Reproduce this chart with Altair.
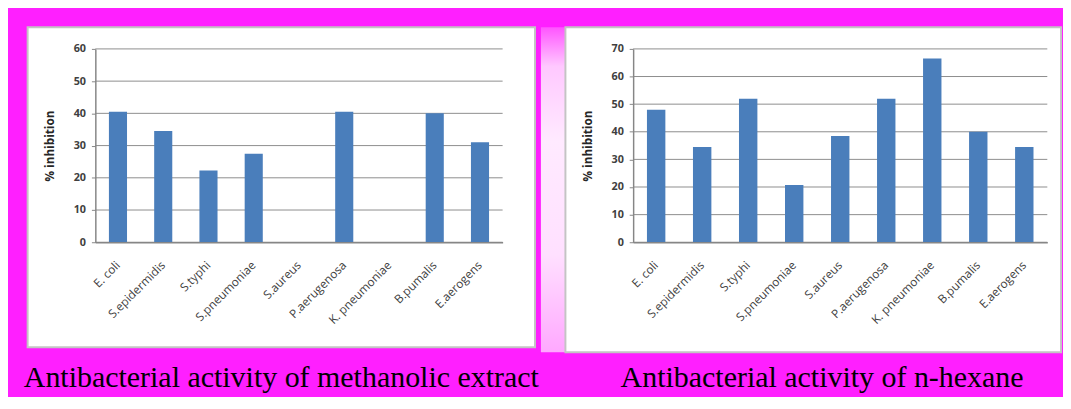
import altair as alt
import pandas as pd

bacteria = ["E. coli", "S.epidermidis", "S.typhi", "S.pneumoniae", "S.aureus",
            "P.aerugenosa", "K. pneumoniae", "B.pumalis", "E.aerogens"]
methanolic = [40.5, 34.5, 22.3, 27.5, 0, 40.5, 0, 40, 31]
hexane = [48, 34.5, 52, 20.7, 38.5, 52, 66.5, 40, 34.5]
ticks_methanolic = [0, 10, 20, 30, 40, 50, 60]
ticks_hexane = [0, 10, 20, 30, 40, 50, 60, 70]
captions = ["Antibacterial activity of methanolic extract",
            "Antibacterial activity of n-hexane"]

BAR = "#4A7EBB"
GRID = "#8C8C8C"
LABEL_FONT = "Open Sans"

gap_gradient = alt.LinearGradient(
    gradient="linear", x1=0, x2=0, y1=0, y2=1,
    stops=[alt.GradientStop(color="#FF55FF", offset=0),
           alt.GradientStop(color="#FFC8FF", offset=0.12),
           alt.GradientStop(color="#FFEAFF", offset=0.35),
           alt.GradientStop(color="#FFE0FF", offset=0.7),
           alt.GradientStop(color="#FFA8FF", offset=1)])


def panel(values, ticks, caption, width, height, box, cap_offset, cap_dx, gap=None):
    df = pd.DataFrame({"bacterium": bacteria, "value": values})
    grid_df = pd.DataFrame({"value": ticks})
    xs = alt.Scale(domain=bacteria, paddingInner=0.6, paddingOuter=0.3)
    ys = alt.Scale(domain=[ticks[0], ticks[-1]], nice=False, zero=True)
    y_axis = alt.Axis(title="% inhibition", values=ticks, grid=False,
                      labelOverlap=False,
                      labelFont=LABEL_FONT, labelFontSize=11,
                      labelFontWeight="bold", labelColor="#404040",
                      labelPadding=6, tickSize=4, tickColor="#868686",
                      domainColor="#868686", domainWidth=1.5,
                      titleFont=LABEL_FONT, titleFontSize=12,
                      titleFontWeight="bold", titleColor="#262626",
                      titlePadding=17, zindex=1)

    layers = []
    if gap is not None:
        layers.append(alt.Chart(pd.DataFrame({"k": [0]})).mark_rect(
            fill=gap_gradient
        ).encode(
            x=alt.value(gap[0]), x2=alt.value(gap[1]),
            y=alt.value(box[2]), y2=alt.value(box[3])
        ))
    layers.append(alt.Chart(pd.DataFrame({"k": [0]})).mark_rect(
        fill="white", stroke="#C4C4C4", strokeWidth=2
    ).encode(
        x=alt.value(box[0]), x2=alt.value(box[1]),
        y=alt.value(box[2]), y2=alt.value(box[3])
    ))
    layers.append(alt.Chart(grid_df).mark_rule(color=GRID, strokeWidth=1).encode(
        y=alt.Y("value:Q", scale=ys, axis=y_axis)
    ))
    layers.append(alt.Chart(df).mark_bar(color=BAR).encode(
        x=alt.X("bacterium:N", scale=xs, sort=bacteria,
                axis=alt.Axis(title=None, labelAngle=-45, labelAlign="right",
                              labelBaseline="middle", labelPadding=21,
                              labelFont=LABEL_FONT, labelFontSize=12,
                              labelColor="#404040", ticks=False,
                              labelOverlap=False,
                              domainColor="#868686", domainWidth=1.5,
                              grid=False, zindex=1)),
        y=alt.Y("value:Q", scale=ys, axis=y_axis),
    ))
    return alt.layer(*layers).properties(
        width=width, height=height,
        title=alt.TitleParams(caption, orient="bottom", anchor="middle",
                              frame="bounds", dx=cap_dx,
                              font="Liberation Serif", fontSize=30.5,
                              fontWeight="normal", color="black",
                              offset=cap_offset),
    )


left = panel(methanolic, ticks_methanolic, captions[0], 415, 197,
             (-69, 448, -22, 304), 15, 0)
right = panel(hexane, ticks_hexane, captions[1], 422, 197,
              (-69, 436, -22, 309), 10, 21, gap=(-94, -69))

chart = alt.hconcat(left, right, spacing=0).properties(
    padding={"left": 15, "top": 14, "right": 0, "bottom": 0},
    background="#FF1FFF",
).configure_view(stroke="transparent")

chart.save("out.html", embed_options={"renderer": "svg", "actions": False})
